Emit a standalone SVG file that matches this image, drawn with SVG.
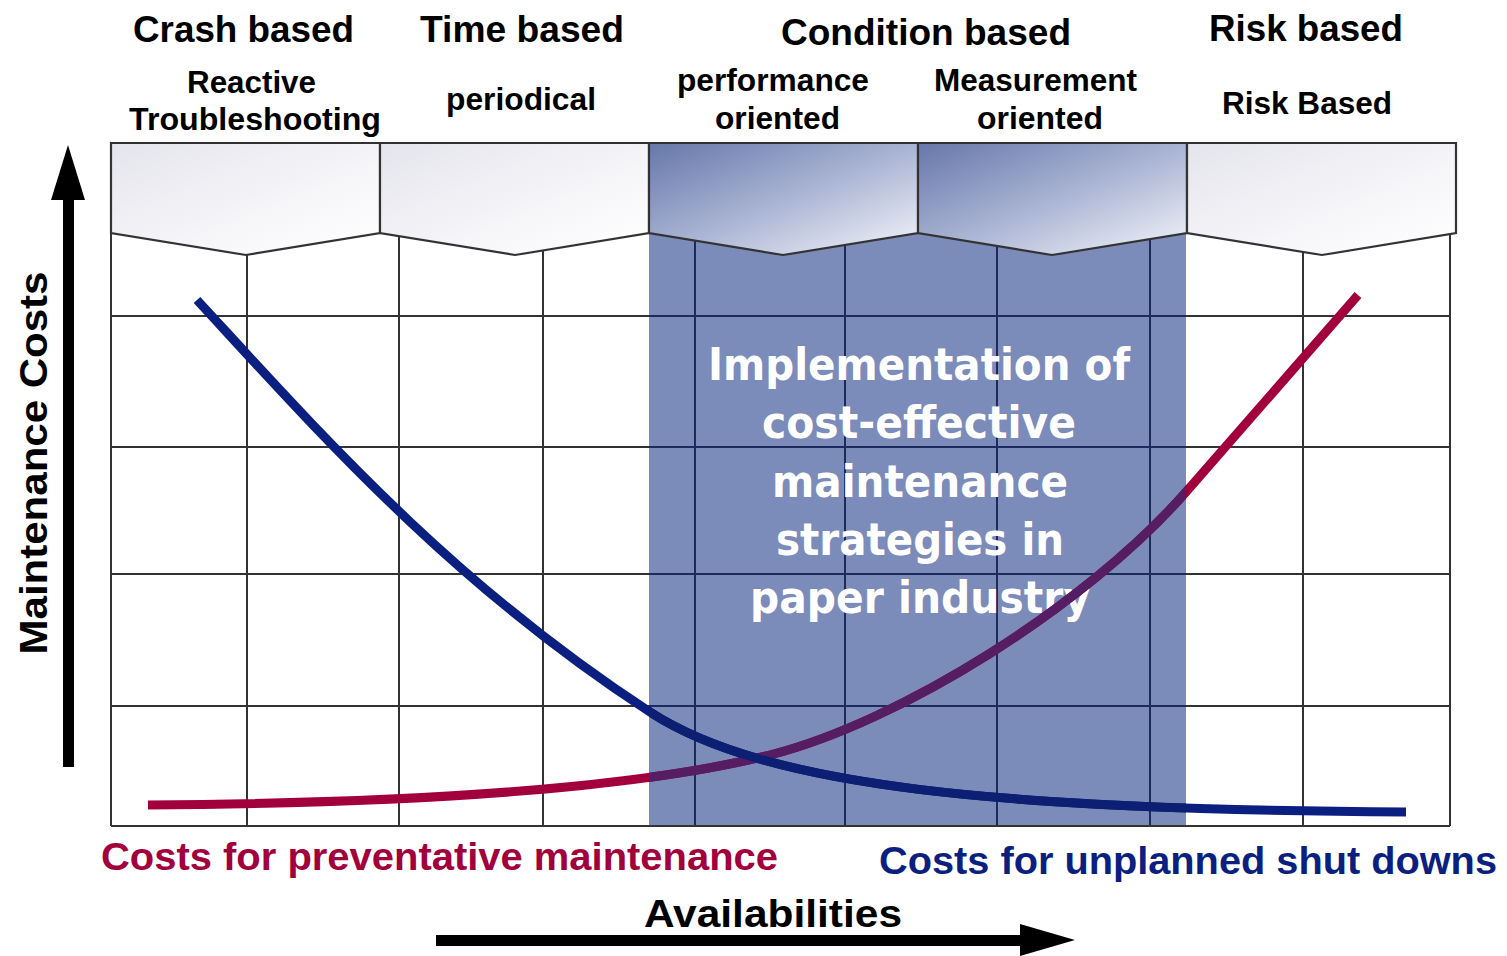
<svg xmlns="http://www.w3.org/2000/svg" width="1507" height="956" viewBox="0 0 1507 956">
<defs>
<style>
.hdr{font-family:"Liberation Sans",Arial,sans-serif;font-weight:bold;fill:#000;text-anchor:middle}
.h1{font-size:37px}
.h2{font-size:31px}
.band{font-family:"DejaVu Sans","Verdana",sans-serif;font-weight:bold;font-size:45px;fill:#fff;text-anchor:middle}
.grid{stroke:#333;stroke-width:2;fill:none}
.gridb{stroke:#1c2a5e;stroke-width:2;fill:none}
.chev{stroke:#333;stroke-width:2.2}
.lbl{font-family:"Liberation Sans",Arial,sans-serif;font-weight:bold;font-size:38px}
.curve{fill:none;stroke-width:9}
</style>
<linearGradient id="gOut" x1="0" y1="0" x2="1" y2="1">
<stop offset="0" stop-color="#e4e4ec"/>
<stop offset="0.6" stop-color="#f6f6f9"/>
<stop offset="1" stop-color="#ffffff"/>
</linearGradient>
<linearGradient id="gMid" x1="0" y1="0" x2="1" y2="1">
<stop offset="0" stop-color="#6677aa"/>
<stop offset="0.5" stop-color="#a9b3d3"/>
<stop offset="1" stop-color="#f4f6fb"/>
</linearGradient>
<clipPath id="bandClip"><rect x="649" y="200" width="537" height="626"/></clipPath>
</defs>
<rect width="1507" height="956" fill="#fff"/>

<g id="band-area">
<rect x="649" y="200" width="537" height="626" fill="#7b8bba"/>
</g>

<g id="grid">
<line class="grid" x1="111" y1="233" x2="111" y2="826"/>
<line class="grid" x1="1450" y1="233" x2="1450" y2="826"/>
<line class="grid" x1="247" y1="240" x2="247" y2="826"/>
<line class="grid" x1="399" y1="235" x2="399" y2="826"/>
<line class="grid" x1="543" y1="240" x2="543" y2="826"/>
<line class="grid" x1="1303" y1="240" x2="1303" y2="826"/>
<line class="gridb" x1="695" y1="235" x2="695" y2="826"/>
<line class="gridb" x1="845" y1="240" x2="845" y2="826"/>
<line class="gridb" x1="997" y1="240" x2="997" y2="826"/>
<line class="gridb" x1="1150" y1="235" x2="1150" y2="826"/>
<line class="grid" x1="111" y1="316" x2="1450" y2="316"/>
<line class="grid" x1="111" y1="447" x2="1450" y2="447"/>
<line class="grid" x1="111" y1="574" x2="1450" y2="574"/>
<line class="grid" x1="111" y1="706" x2="1450" y2="706"/>
<line class="grid" x1="111" y1="826" x2="1450" y2="826"/>
<g clip-path="url(#bandClip)">
<line class="gridb" x1="111" y1="316" x2="1450" y2="316"/>
<line class="gridb" x1="111" y1="447" x2="1450" y2="447"/>
<line class="gridb" x1="111" y1="574" x2="1450" y2="574"/>
<line class="gridb" x1="111" y1="706" x2="1450" y2="706"/>
</g>
</g>

<g id="band-text">
<text class="band" x="919" y="380" textLength="422" lengthAdjust="spacingAndGlyphs">Implementation of</text>
<text class="band" x="919" y="438" textLength="314" lengthAdjust="spacingAndGlyphs">cost-effective</text>
<text class="band" x="920" y="497" textLength="296" lengthAdjust="spacingAndGlyphs">maintenance</text>
<text class="band" x="920" y="555" textLength="288" lengthAdjust="spacingAndGlyphs">strategies in</text>
<text class="band" x="920" y="613" textLength="340" lengthAdjust="spacingAndGlyphs">paper industry</text>
</g>

<g id="connectors">
<path id="blue-curve" class="curve" d="M197,300 C317,430 450,582 650,712 C765,787 1000,810 1406,812" stroke="#0b1f80"/>
<path id="red-curve" class="curve" d="M148,805 C450,803 650,785 770,755 C900,722 1086,606 1186,492 L1358,295" stroke="#a2003d"/>
<path class="curve" d="M148,805 C450,803 650,785 770,755 C900,722 1086,606 1186,492 L1358,295" stroke="#551d63" clip-path="url(#bandClip)"/>
<path class="curve" d="M197,300 C317,430 450,582 650,712 C765,787 1000,810 1406,812" stroke="#0d1f72" clip-path="url(#bandClip)"/>
</g>

<g id="chevrons">
<polygon class="chev" fill="url(#gOut)" points="111,143 380,143 380,233 246,255 111,233"/>
<polygon class="chev" fill="url(#gOut)" points="380,143 649,143 649,233 515,255 380,233"/>
<polygon class="chev" fill="url(#gMid)" points="649,143 918,143 918,233 783,255 649,233"/>
<polygon class="chev" fill="url(#gMid)" points="918,143 1187,143 1187,233 1052,255 918,233"/>
<polygon class="chev" fill="url(#gOut)" points="1187,143 1456,143 1456,233 1322,255 1187,233"/>
</g>

<g id="header-crash">
<text class="hdr h1" x="243.5" y="42" textLength="221" lengthAdjust="spacingAndGlyphs">Crash based</text>
<text class="hdr h2" x="251.5" y="93" textLength="129" lengthAdjust="spacingAndGlyphs">Reactive</text>
<text class="hdr h2" x="255" y="130" textLength="252" lengthAdjust="spacingAndGlyphs">Troubleshooting</text>
</g>
<g id="header-time">
<text class="hdr h1" x="522" y="42" textLength="204" lengthAdjust="spacingAndGlyphs">Time based</text>
<text class="hdr h2" x="521" y="110" textLength="150" lengthAdjust="spacingAndGlyphs">periodical</text>
</g>
<g id="header-condition">
<text class="hdr h1" x="926" y="45" textLength="290" lengthAdjust="spacingAndGlyphs">Condition based</text>
<text class="hdr h2" x="773" y="91" textLength="192" lengthAdjust="spacingAndGlyphs">performance</text>
<text class="hdr h2" x="777.5" y="129" textLength="125" lengthAdjust="spacingAndGlyphs">oriented</text>
<text class="hdr h2" x="1035.5" y="91" textLength="203" lengthAdjust="spacingAndGlyphs">Measurement</text>
<text class="hdr h2" x="1040" y="129" textLength="126" lengthAdjust="spacingAndGlyphs">oriented</text>
</g>
<g id="header-risk">
<text class="hdr h1" x="1306" y="41" textLength="194" lengthAdjust="spacingAndGlyphs">Risk based</text>
<text class="hdr h2" x="1307" y="114" textLength="170" lengthAdjust="spacingAndGlyphs">Risk Based</text>
</g>

<g id="legend-preventative">
<text class="lbl" x="101" y="870" fill="#a2003d" textLength="677" lengthAdjust="spacingAndGlyphs">Costs for preventative maintenance</text>
</g>
<g id="legend-unplanned">
<text class="lbl" x="879" y="874" fill="#0b1f80" textLength="618" lengthAdjust="spacingAndGlyphs">Costs for unplanned shut downs</text>
</g>

<g id="y-axis">
<rect x="63" y="196" width="11" height="571" fill="#000"/>
<polygon points="51,200 85,200 68,145" fill="#000"/>
<text class="lbl" transform="translate(47,463) rotate(-90)" text-anchor="middle" font-size="40" fill="#000" textLength="383" lengthAdjust="spacingAndGlyphs">Maintenance Costs</text>
</g>
<g id="x-axis">
<rect x="436" y="935" width="588" height="11" fill="#000"/>
<polygon points="1020,924 1020,956 1075,940" fill="#000"/>
<text class="lbl" x="773" y="927" text-anchor="middle" font-size="40" fill="#000" textLength="258" lengthAdjust="spacingAndGlyphs">Availabilities</text>
</g>
</svg>
